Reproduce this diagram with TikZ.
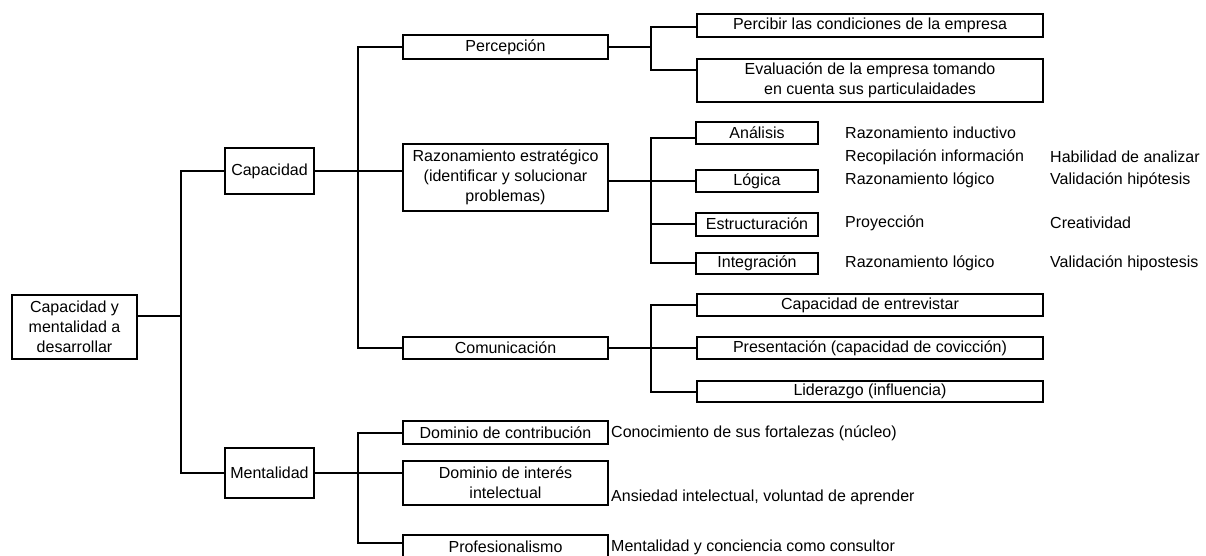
\documentclass[tikz,border=0pt]{standalone}
\usepackage{fontspec}
\setmainfont{Liberation Sans}
\begin{document}
\begin{tikzpicture}[x=1pt,y=-1pt,
  every node/.style={font=\fontsize{16}{20}\selectfont},
  box/.style={draw, line width=2pt, rectangle, align=center, inner sep=0pt},
  note/.style={anchor=west, inner sep=0pt},
  link/.style={line width=2pt}]
\useasboundingbox (0,0) rectangle (1206,556);

% level 0 and 1
\node[box, minimum width=125pt, minimum height=64pt] (root) at (74.5,327) {Capacidad y\\mentalidad a\\desarrollar};
\node[box, minimum width=89pt, minimum height=46pt] (cap) at (269.5,171) {Capacidad};
\node[box, minimum width=89pt, minimum height=50pt] (ment) at (269.5,473) {Mentalidad};

% capacidad branch
\node[box, minimum width=205pt, minimum height=24pt] (perc) at (505.5,47) {Percepción};
\node[box, minimum width=205pt, minimum height=67pt] (razon) at (505.5,177.5) {Razonamiento estratégico\\(identificar y solucionar\\problemas)};
\node[box, minimum width=205pt, minimum height=22pt] (comu) at (505.5,348) {Comunicación};

\node[box, minimum width=346pt, minimum height=23pt] (percibir) at (870,25.5) {Percibir las condiciones de la empresa};
\node[box, minimum width=346pt, minimum height=43pt] (evalu) at (870,80.5) {Evaluación de la empresa tomando\\en cuenta sus particulaidades};

\node[box, minimum width=122pt, minimum height=22pt] (anal) at (757,133) {Análisis};
\node[box, minimum width=122pt, minimum height=21pt] (logi) at (757,181) {Lógica};
\node[box, minimum width=122pt, minimum height=23pt] (estr) at (757,224) {Estructuración};
\node[box, minimum width=122pt, minimum height=21pt] (integ) at (757,263) {Integración};

\node[box, minimum width=346pt, minimum height=22pt] (entrev) at (870,305) {Capacidad de entrevistar};
\node[box, minimum width=346pt, minimum height=22pt] (present) at (870,348) {Presentación (capacidad de covicción)};
\node[box, minimum width=346pt, minimum height=21pt] (lider) at (870,391.5) {Liderazgo (influencia)};

% mentalidad branch
\node[box, minimum width=205pt, minimum height=23pt] (domc) at (505.5,432.5) {Dominio de contribución};
\node[box, minimum width=205pt, minimum height=44pt] (domi) at (505.5,483) {Dominio de interés\\intelectual};
\node[box, minimum width=205pt, minimum height=24pt] (prof) at (505.5,547) {Profesionalismo};

% side notes
\node[note] (n1) at (845,133) {Razonamiento inductivo};
\node[note] (n2) at (845,157) {Recopilación información};
\node[note] (n3) at (1050,157) {Habilidad de analizar};
\node[note] (n4) at (845,180) {Razonamiento lógico};
\node[note] (n5) at (1050,180) {Validación hipótesis};
\node[note] (n6) at (845,223) {Proyección};
\node[note] (n7) at (1050,223) {Creatividad};
\node[note] (n8) at (845,263) {Razonamiento lógico};
\node[note] (n9) at (1050,263) {Validación hipostesis};
\node[note] (m1) at (611,433) {Conocimiento de sus fortalezas (núcleo)};
\node[note] (m2) at (611,497) {Ansiedad intelectual, voluntad de aprender};
\node[note] (m3) at (611,547) {Mentalidad y conciencia como consultor};

% bus junctions
\coordinate (busR) at (181,316);
\coordinate (busC) at (358,171);
\coordinate (busM) at (358,473);
\coordinate (busP) at (651,47);
\coordinate (busZ) at (651,181);
\coordinate (busK) at (651,348);

% connectors
\draw[link] ([yshift=11pt]root.east) -- (busR);
\draw[link] (cap.west) -| (busR) |- (ment.west);

\draw[link] (cap.east) -- ([yshift=6.5pt]razon.west);
\draw[link] (perc.west) -| (busC) |- (comu.west);

\draw[link] (ment.east) -- ([yshift=10pt]domi.west);
\draw[link] (domc.west) -| (busM) |- ([yshift=4pt]prof.west);

\draw[link] (perc.east) -- (busP);
\draw[link] ([yshift=-1.5pt]percibir.west) -| (busP) |- ([yshift=10.5pt]evalu.west);

\draw[link] ([yshift=-3.5pt]razon.east) -- (logi.west);
\draw[link] ([yshift=-5pt]anal.west) -| (busZ) |- (integ.west);
\draw[link] (busZ) |- (estr.west);

\draw[link] (comu.east) -- (present.west);
\draw[link] (entrev.west) -| (busK) |- (lider.west);
\end{tikzpicture}
\end{document}
